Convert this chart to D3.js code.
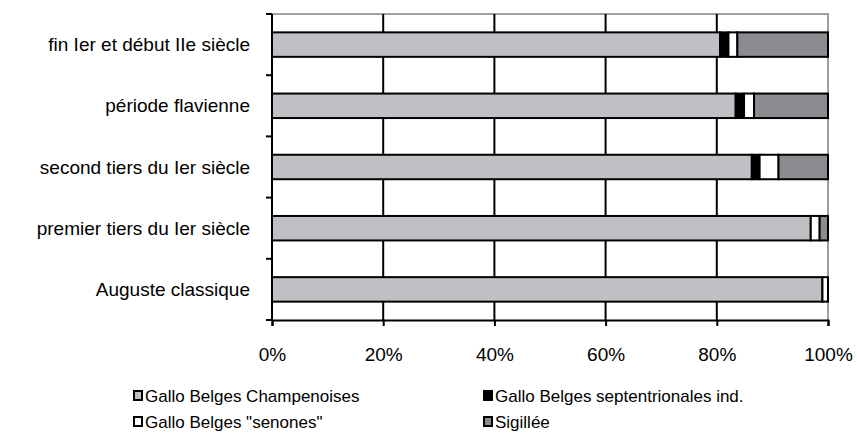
<!DOCTYPE html>
<html>
<head>
<meta charset="utf-8">
<script src="https://cdn.jsdelivr.net/npm/d3@7"></script>
<style>
  body { margin: 0; background: #fff; }
  svg { font-family: "Liberation Sans", Arial, sans-serif; }
</style>
</head>
<body>
<div id="chart"></div>
<script>
const categories = [
    "fin Ier et début IIe siècle",
    "période flavienne",
    "second tiers du Ier siècle",
    "premier tiers du Ier siècle",
    "Auguste classique"
];
const seriesNames = [
    "Gallo Belges Champenoises",
    "Gallo Belges septentrionales ind.",
    "Gallo Belges \"senones\"",
    "Sigillée"
];
const champenoises = [80.6, 83.4, 86.3, 96.9, 99.0];
const septentrionales = [1.5, 1.5, 1.4, 0, 0];
const senones = [1.6, 1.8, 3.4, 1.6, 1.0];
const sigillee = [16.3, 13.3, 8.9, 1.5, 0];
const xTicks = [0, 20, 40, 60, 80, 100];

const colors = ["#c0c0c4", "#000000", "#ffffff", "#8c8c90"];
const seriesValues = [champenoises, septentrionales, senones, sigillee];

const width = 857;
const height = 434;
const margin = { top: 14, right: 29, bottom: 114, left: 272 };

const svg = d3.select("#chart")
    .append("svg")
    .attr("width", width)
    .attr("height", height);

const x = d3.scaleLinear()
    .domain([0, 100])
    .range([margin.left, width - margin.right]);

const y = d3.scaleBand()
    .domain(categories)
    .range([margin.top, height - margin.bottom])
    .paddingInner(0.6)
    .paddingOuter(0.3);

// plot area border (light gray, top and right)
svg.append("path")
    .attr("d", `M${x(0)},${margin.top}H${x(100)}V${height - margin.bottom}`)
    .attr("fill", "none")
    .attr("stroke", "#a0a0a0")
    .attr("stroke-width", 2);

// vertical gridlines
svg.selectAll(".grid")
    .data(xTicks.slice(1, -1))
    .enter()
    .append("line")
    .attr("x1", d => x(d))
    .attr("x2", d => x(d))
    .attr("y1", margin.top)
    .attr("y2", height - margin.bottom)
    .attr("stroke", "#000")
    .attr("stroke-width", 2);

// stacked bars
const rows = categories.map((c, i) => {
    const row = { category: c };
    seriesNames.forEach((s, j) => row[s] = seriesValues[j][i]);
    return row;
});
const stacked = d3.stack().keys(seriesNames)(rows);

svg.selectAll(".series")
    .data(stacked)
    .enter()
    .append("g")
    .attr("fill", (_, i) => colors[i])
    .selectAll("rect")
    .data(d => d.filter(p => p[1] - p[0] > 0))
    .enter()
    .append("rect")
    .attr("x", d => x(d[0]))
    .attr("y", d => y(d.data.category))
    .attr("width", d => x(d[1]) - x(d[0]))
    .attr("height", y.bandwidth())
    .attr("stroke", "#000")
    .attr("stroke-width", 2);

// X axis
const xAxis = svg.append("g")
    .attr("transform", `translate(0, ${height - margin.bottom})`)
    .call(d3.axisBottom(x).tickValues(xTicks).tickFormat(d => d + "%").tickSize(6).tickPadding(22));
xAxis.select(".domain").attr("stroke-width", 2);
xAxis.selectAll(".tick line").attr("stroke-width", 2);
xAxis.selectAll("text").attr("font-size", 19).attr("fill", "#000").attr("font-family", "Liberation Sans, Arial, sans-serif");

// Y axis with ticks at band boundaries
const step = y.step();
const boundaries = d3.range(categories.length + 1).map(i => margin.top + i * step);
svg.append("line")
    .attr("x1", x(0)).attr("x2", x(0))
    .attr("y1", margin.top).attr("y2", height - margin.bottom)
    .attr("stroke", "#000").attr("stroke-width", 2);
svg.selectAll(".ytick")
    .data(boundaries)
    .enter()
    .append("line")
    .attr("x1", x(0) - 6).attr("x2", x(0))
    .attr("y1", d => d).attr("y2", d => d)
    .attr("stroke", "#000").attr("stroke-width", 2);

svg.selectAll(".ylabel")
    .data(categories)
    .enter()
    .append("text")
    .attr("x", x(0) - 22)
    .attr("y", d => y(d) + y.bandwidth() / 2)
    .attr("dy", "0.35em")
    .attr("text-anchor", "end")
    .attr("font-size", 19)
    .text(d => d);

// legend
const legendPos = [[133, 396], [483, 396], [133, 422], [483, 422]];
const legend = svg.selectAll(".legend")
    .data(seriesNames)
    .enter()
    .append("g")
    .attr("transform", (_, i) => `translate(${legendPos[i][0]}, ${legendPos[i][1]})`);
legend.append("rect")
    .attr("x", 1).attr("y", -5)
    .attr("width", 8).attr("height", 9)
    .attr("fill", (_, i) => colors[i])
    .attr("stroke", "#000")
    .attr("stroke-width", 2);
legend.append("text")
    .attr("x", 12)
    .attr("dy", "0.35em")
    .attr("font-size", 17)
    .text(d => d);
</script>
</body>
</html>
